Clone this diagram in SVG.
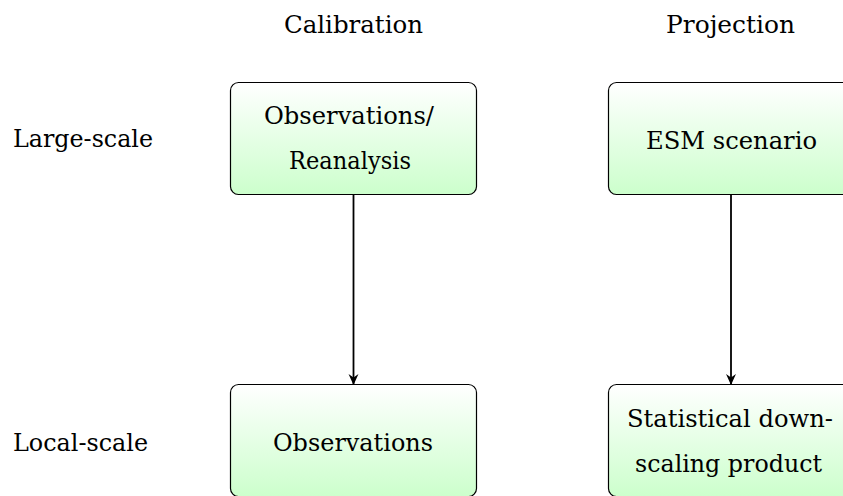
<svg xmlns="http://www.w3.org/2000/svg" width="843" height="496" viewBox="0 0 843 496">
<defs>
<linearGradient id="g" x1="0" y1="0" x2="0" y2="1">
<stop offset="0" stop-color="#ffffff"/>
<stop offset="1" stop-color="#ccffcc"/>
</linearGradient>
<marker id="ah" viewBox="0 0 10 10" refX="9" refY="5" markerWidth="11" markerHeight="11" markerUnits="userSpaceOnUse" orient="auto">
<path d="M0,0.5 L10,5 L0,9.5 L3,5 Z" fill="#000"/>
</marker>
<style>
.box{fill:url(#g);stroke:#000;stroke-width:1.2}
text{font-family:"DejaVu Serif","Liberation Serif",serif;font-size:25px;fill:#000}
.c{text-anchor:middle}
.con{stroke:#000;stroke-width:1.8;fill:none}
</style>
</defs>
<rect width="843" height="496" fill="#fff"/>
<text class="c" x="353.5" y="33" textLength="139" lengthAdjust="spacingAndGlyphs">Calibration</text>
<text class="c" x="730.5" y="33" textLength="129" lengthAdjust="spacingAndGlyphs">Projection</text>
<text x="13" y="147" textLength="140" lengthAdjust="spacingAndGlyphs">Large-scale</text>
<text x="13" y="451" textLength="135" lengthAdjust="spacingAndGlyphs">Local-scale</text>
<g id="obsre">
<rect class="box" x="230.5" y="82.5" width="246" height="112" rx="8"/>
<text class="c" x="349" y="124" textLength="170" lengthAdjust="spacingAndGlyphs">Observations/</text>
<text class="c" x="350" y="169" textLength="122" lengthAdjust="spacingAndGlyphs">Reanalysis</text>
</g>
<g id="esm">
<rect class="box" x="608.5" y="82.5" width="246" height="112" rx="8"/>
<text class="c" x="731.5" y="149" textLength="171" lengthAdjust="spacingAndGlyphs">ESM scenario</text>
</g>
<g id="obs">
<rect class="box" x="230.5" y="384.5" width="246" height="112" rx="8"/>
<text class="c" x="353" y="451" textLength="160" lengthAdjust="spacingAndGlyphs">Observations</text>
</g>
<g id="sdp">
<rect class="box" x="608.5" y="384.5" width="246" height="112" rx="8"/>
<text class="c" x="730" y="427" textLength="206" lengthAdjust="spacingAndGlyphs">Statistical down-</text>
<text class="c" x="728.5" y="472" textLength="187" lengthAdjust="spacingAndGlyphs">scaling product</text>
</g>
<g id="connectors">
<line class="con" x1="353.5" y1="195" x2="353.5" y2="384" marker-end="url(#ah)"/>
<line class="con" x1="731" y1="195" x2="731" y2="384" marker-end="url(#ah)"/>
</g>
</svg>
